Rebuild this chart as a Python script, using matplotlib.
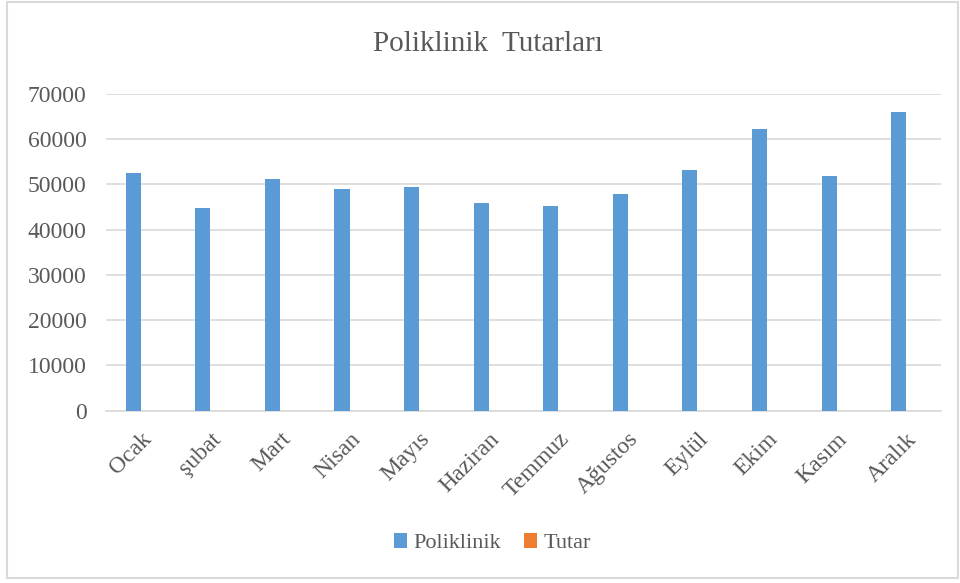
import numpy as np
import matplotlib.pyplot as plt
from matplotlib.patches import Rectangle

# aylar ve poliklinik tutarlari
aylar = ["Ocak", "şubat", "Mart", "Nisan", "Mayıs", "Haziran",
         "Temmuz", "Ağustos", "Eylül", "Ekim", "Kasım", "Aralık"]
poliklinik = [52500, 44700, 51200, 49000, 49500, 45800,
              45200, 47800, 53200, 62200, 51800, 65900]
tutar = [0] * 12

plt.rcParams['font.family'] = ['Liberation Serif', 'DejaVu Serif']
gri = '#595959'

fig = plt.figure(figsize=(9.6, 5.83), dpi=100)
ax = fig.add_axes([0.1104, 0.2955, 0.8698, 0.5438])

x = np.arange(len(aylar))
w = 0.216
ax.bar(x - w / 2, poliklinik, w, color='#5B9BD5', label='Poliklinik', zorder=3)
ax.bar(x + w / 2, tutar, w, color='#ED7D31', label='Tutar', linewidth=0, zorder=3)

ax.set_xlim(-0.5, len(aylar) - 0.5)
ax.set_ylim(0, 70000)
ax.set_yticks(np.arange(0, 70001, 10000))
ax.yaxis.grid(True, color='#D9D9D9', linewidth=1.2, zorder=0)
ax.set_axisbelow(True)
for s in ['top', 'right', 'left']:
    ax.spines[s].set_visible(False)
ax.spines['bottom'].set_color('#D9D9D9')
ax.spines['bottom'].set_linewidth(1.2)
ax.tick_params(axis='both', length=0, colors=gri, labelsize=17)
ax.tick_params(axis='y', pad=14)
ax.set_xticks(x)
ax.set_xticklabels(aylar, rotation=45, ha='right', rotation_mode='anchor')
ax.tick_params(axis='x', pad=13)

fig.text(0.508, 0.925, "Poliklinik  Tutarları", ha='center', va='center',
         fontsize=21, color=gri)

h, l = ax.get_legend_handles_labels()
fig.legend(h, l, loc='center', bbox_to_anchor=(0.513, 0.068), ncol=2,
           frameon=False, fontsize=16, labelcolor=gri, handlelength=0.6,
           handleheight=0.6, handletextpad=0.3, columnspacing=1.0)

fig.patches.append(Rectangle((7 / 960, 5 / 583), 951 / 960, 576 / 583,
                             transform=fig.transFigure, fill=False,
                             edgecolor='#D9D9D9', linewidth=1.5))

fig.savefig("out.png", dpi=100)
